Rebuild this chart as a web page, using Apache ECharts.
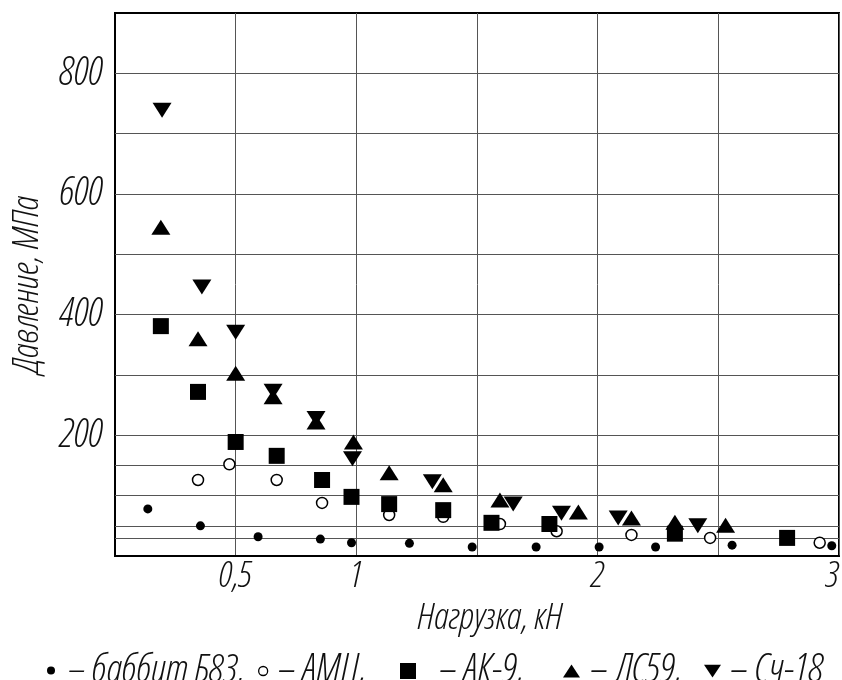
<!DOCTYPE html>
<html>
<head>
<meta charset="utf-8">
<script src="https://cdn.jsdelivr.net/npm/echarts@6/dist/echarts.min.js"></script>
<style>html,body{margin:0;padding:0;background:#fff;}#c{width:842px;height:680px;}</style>
</head>
<body>
<div id="c"></div>
<script>
// ---- data ----
const seriesNames = ['баббит Б83', 'АМЦ', 'АК-9', 'ЛС59', 'Сч-18'];
const babbitX = [0.136, 0.354, 0.593, 0.851, 0.98, 1.22, 1.48, 1.745, 2.006, 2.24, 2.557, 2.97];
const babbitY = [78, 50, 32, 28, 22, 21, 15, 15, 15, 15, 18, 17];
const amcX = [0.344, 0.474, 0.67, 0.858, 1.136, 1.36, 1.595, 1.83, 2.14, 2.466, 2.92];
const amcY = [126, 152, 126, 88, 68, 65, 53, 41, 35, 30, 22];
const ak9X = [0.19, 0.344, 0.5, 0.67, 0.858, 0.98, 1.136, 1.36, 1.56, 1.80, 2.32, 2.785];
const ak9Y = [381, 272, 189, 166, 126, 98, 86, 76, 55, 53, 37, 30];
const ls59X = [0.19, 0.344, 0.5, 0.655, 0.833, 0.988, 1.136, 1.36, 1.595, 1.92, 2.14, 2.32, 2.53];
const ls59Y = [545, 360, 303, 264, 222, 189, 138, 118, 93, 73, 63, 56, 51];
const sch18X = [0.195, 0.36, 0.5, 0.655, 0.833, 0.984, 1.315, 1.65, 1.85, 2.085, 2.415];
const sch18Y = [739, 446, 371, 273, 228, 161, 123, 86, 71, 63, 50];
const xTickLabels = {0.5: '0,5', 1: '1', 2: '2', 3: '3'};
const yTickLabels = [200, 400, 600, 800];
const yGridValues = [30, 50, 100, 150, 200, 300, 400, 500, 600, 700, 800];

const zip = (xs, ys) => xs.map((x, i) => [x, ys[i]]);
const txt = (size) => ({fontFamily: "'Open Sans'", fontStyle: 'italic', fontWeight: '300 semi-condensed', fontSize: size, color: '#111'});

const styles = [
  {symbol: 'circle', symbolSize: 9, itemStyle: {color: '#000', opacity: 1}},
  {symbol: 'circle', symbolSize: 11, itemStyle: {color: '#fff', borderColor: '#000', borderWidth: 1.5, opacity: 1}},
  {symbol: 'rect', symbolSize: 16, itemStyle: {color: '#000', opacity: 1}},
  {symbol: 'triangle', symbolSize: [19, 15], itemStyle: {color: '#000', opacity: 1}},
  {symbol: 'triangle', symbolSize: [19, 15], symbolRotate: 180, itemStyle: {color: '#000', opacity: 1}}
];
const datasets = [zip(babbitX, babbitY), zip(amcX, amcY), zip(ak9X, ak9Y), zip(ls59X, ls59Y), zip(sch18X, sch18Y)];

const series = seriesNames.map((n, i) => Object.assign({
  name: n, type: 'scatter', data: datasets[i], z: 3, animation: false
}, styles[i]));
series[0].markLine = {
  silent: true, symbol: 'none', z: 1, animation: false,
  label: {show: false},
  lineStyle: {color: '#555', width: 1, type: 'solid'},
  emphasis: {disabled: true},
  data: yGridValues.map(v => ({yAxis: v}))
};

// legends (one per item so icon sizes can differ)
const legendDefs = [
  {icon: 'circle', w: 8, h: 8, left: 47, pad: 8, size: 39, sfx: ','},
  {icon: 'circle', w: 9, h: 9, left: 258, pad: 5, size: 40, sfx: ',', hollow: true},
  {icon: 'rect', w: 16, h: 16, left: 400, pad: 18, size: 40, sfx: ','},
  {icon: 'triangle', w: 17, h: 13, left: 563, pad: 5, size: 40, sfx: ','},
  {icon: 'path://M0,0 L20,0 L10,15 Z', w: 17, h: 13, left: 704, pad: 4, size: 40, sfx: ''}
];
const legends = legendDefs.map((d, i) => ({
  data: [{name: seriesNames[i], icon: d.icon,
          itemStyle: d.hollow ? {color: '#fff', borderColor: '#000', borderWidth: 1.3} : {color: '#000', borderWidth: 0}}],
  left: d.left, top: 651, padding: 0,
  itemWidth: d.w, itemHeight: d.h,
  selectedMode: false,
  formatter: n => '– ' + n + d.sfx,
  textStyle: Object.assign(txt(d.size), {padding: [0, 0, 0, d.pad]})
}));

const chart = echarts.init(document.getElementById('c'), null, {renderer: 'canvas'});
chart.setOption({
  animation: false,
  backgroundColor: '#fff',
  grid: {left: 115, top: 13, right: 3, bottom: 124, outerBoundsMode: 'none', containLabel: false,
         show: true, borderColor: '#000', borderWidth: 2, backgroundColor: 'transparent'},
  legend: legends,
  xAxis: {
    type: 'value', min: 0, max: 3, interval: 0.5,
    name: 'Нагрузка, кН', nameLocation: 'middle', nameGap: 36,
    nameTextStyle: Object.assign(txt(37), {padding: [0, 0, 0, 26]}),
    axisLine: {show: true, lineStyle: {color: '#000', width: 2}},
    axisTick: {show: false},
    splitLine: {show: true, lineStyle: {color: '#555', width: 1}},
    axisLabel: Object.assign(txt(37), {
      margin: 2, alignMaxLabel: 'right',
      formatter: v => xTickLabels[v] !== undefined ? xTickLabels[v] : ''
    })
  },
  yAxis: {
    type: 'value', min: 0, max: 900, interval: 100,
    name: 'Давление, МПа', nameLocation: 'middle', nameGap: 69,
    nameTextStyle: txt(37),
    axisLine: {show: true, lineStyle: {color: '#000', width: 2}},
    axisTick: {show: false},
    splitLine: {show: false},
    axisLabel: Object.assign(txt(40), {
      margin: 12,
      formatter: v => yTickLabels.indexOf(v) >= 0 ? String(v) : ''
    })
  },
  series: series
});
</script>
</body>
</html>
